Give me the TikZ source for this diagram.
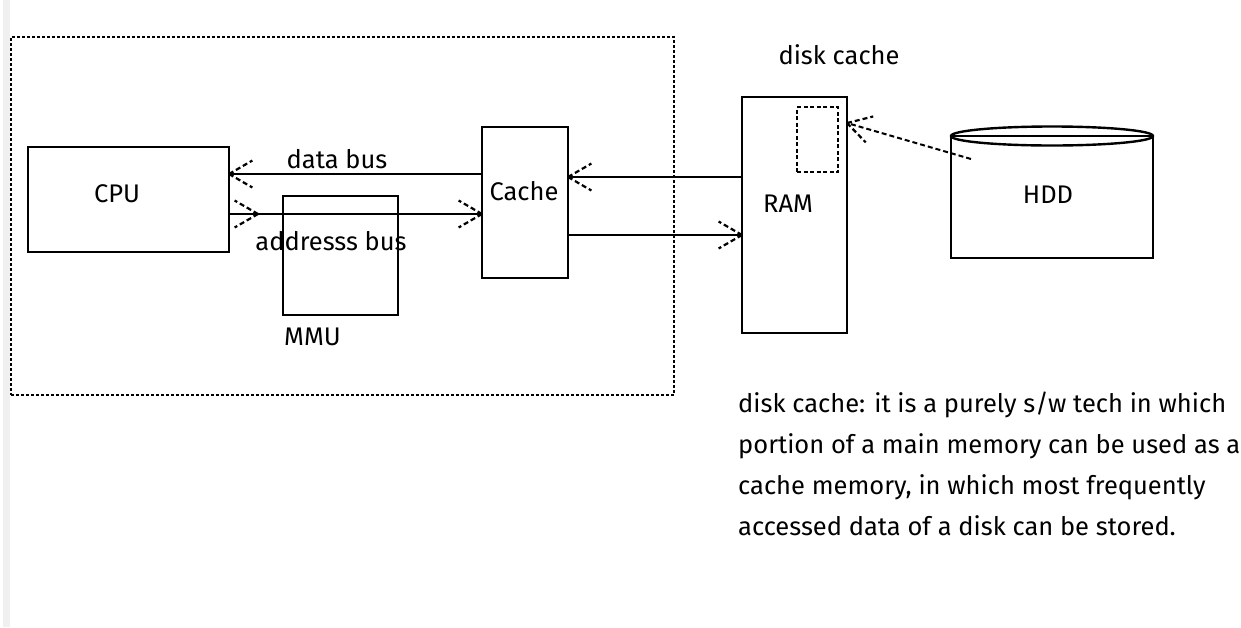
\documentclass[tikz,border=0pt]{standalone}
\usepackage{fontspec}
\setmainfont{Fira Sans}
\begin{document}
\begin{tikzpicture}[x=1pt,y=-1pt,
  box/.style={draw, line width=2.4pt, inner sep=0pt, outer sep=0pt},
  lbl/.style={inner sep=0pt, anchor=base, font=\fontsize{25.5}{30}\selectfont},
  para/.style={inner sep=0pt, anchor=base west, font=\fontsize{25.5}{30}\selectfont},
  bus/.style={line width=2.4pt},
  tipline/.style={line width=2.2pt, dash pattern=on 5pt off 3pt},
  outer/.style={draw, line width=1.8pt, dash pattern=on 3pt off 2pt, inner sep=0pt},
  hddline/.style={line width=2pt, dash pattern=on 5pt off 3pt},
  dcbox/.style={draw, line width=2pt, dash pattern=on 4pt off 2.5pt, inner sep=0pt}
]
\newcommand\dtip[2]{\draw[tipline] #1 -- ++({#2+30}:27pt) #1 -- ++({#2-30}:27pt);}
\useasboundingbox (0,0) rectangle (1241,627);
\fill[gray!12] (3,0) rectangle (10,627);

% outer dashed frame
\node[outer, minimum width=663pt, minimum height=358pt] (frame) at (342.5,216) {};

% boxes
\node[box, minimum width=201pt, minimum height=105pt] (cpu) at (128.5,199.5) {};
\node[box, minimum width=115pt, minimum height=119pt] (mmu) at (340.5,255.5) {};
\node[box, minimum width=86pt, minimum height=151pt] (cache) at (525,202.5) {};
\node[box, minimum width=105pt, minimum height=236pt] (ram) at (794.5,215) {};
\node[dcbox, minimum width=41pt, minimum height=65pt] (dc) at (817.5,139.5) {};
\node[box, minimum width=202pt, minimum height=122pt] (hdd) at (1052,197) {};
\draw[line width=2.4pt] (hdd.north) ellipse [x radius=101pt, y radius=9.5pt];

% labels
\node[lbl] (tcpu) at (117,202) {CPU};
\node[lbl] (tdata) at (337,168) {data bus};
\node[lbl] (taddr) at (331,250) {addresss bus};
\node[lbl] (tcache) at (524,200) {Cache};
\node[lbl] (tmmu) at (312.5,345) {MMU};
\node[lbl] (tram) at (788,212) {RAM};
\node[lbl] (thdd) at (1048,203) {HDD};
\node[lbl] (tdc) at (839,64) {disk cache};

\node[para] (p1) at (738,412) {disk cache: it is a purely s/w tech in which};
\node[para] (p2) at (738,453) {portion of a main memory can be used as a};
\node[para] (p3) at (738,494) {cache memory, in which most frequently};
\node[para] (p4) at (738,535) {accessed data of a disk can be stored.};

% data bus: cache -> cpu
\draw[bus] ([yshift=28.5pt]cache.west) -- ([yshift=25.5pt]cpu.east);
\dtip{([yshift=25.5pt]cpu.east)}{0}
% address bus: cpu -> cache
\coordinate (amid) at (258,214);
\draw[bus] ([yshift=-14.5pt]cpu.east) -- ([yshift=-11.5pt]cache.west);
\dtip{(amid)}{180}
\dtip{([yshift=-11.5pt]cache.west)}{180}
% cache <-> ram
\draw[bus] ([yshift=38pt]ram.west) -- ([yshift=25.5pt]cache.east);
\dtip{([yshift=25.5pt]cache.east)}{0}
\draw[bus] ([yshift=-32.5pt]cache.east) -- ([yshift=-20pt]ram.west);
\dtip{([yshift=-20pt]ram.west)}{180}
% hdd -> ram (disk cache)
\coordinate (hddp) at (971,159);
\draw[hddline] (hddp) -- ([yshift=92pt]ram.east);
\dtip{([yshift=92pt]ram.east)}{-16}
\end{tikzpicture}
\end{document}
